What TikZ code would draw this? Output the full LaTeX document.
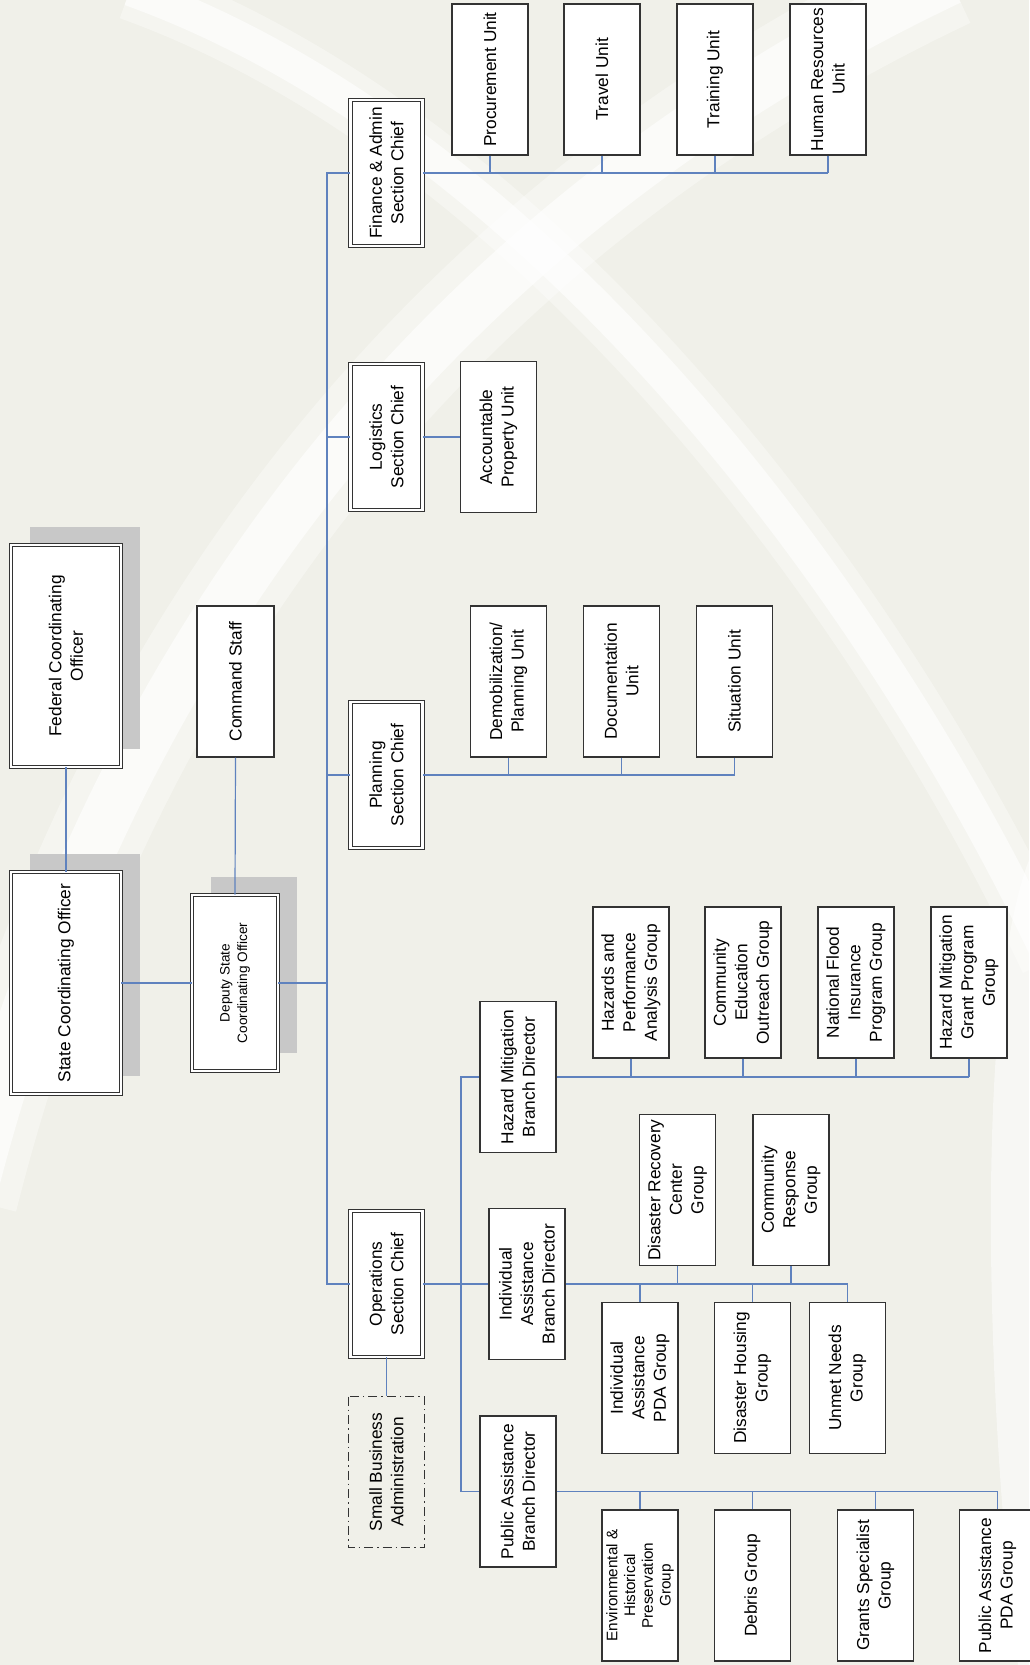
\documentclass[tikz,border=0pt]{standalone}
\usepackage{fontspec}
\setmainfont{Liberation Sans}
\usepackage{xcolor}
\usepackage{tikz}
\usetikzlibrary{backgrounds}
\definecolor{pagebg}{RGB}{240,240,233}
\definecolor{boxline}{RGB}{51,51,51}
\definecolor{linkblue}{RGB}{95,130,190}
\definecolor{shadowgray}{RGB}{200,200,200}
\newcommand{\orgfont}{\fontsize{17.3}{21.5}\selectfont}
\newcommand{\deputyfont}{\fontsize{13.6}{17.5}\selectfont}
\newcommand{\denseorgfont}{\fontsize{15.3}{17.8}\selectfont}
\tikzset{
  orgbox/.style={
    rectangle,
    rotate=90,
    draw=boxline,
    fill=white,
    line width=1.1pt,
    align=center,
    inner sep=2pt,
    minimum width=151pt,
    minimum height=76pt,
    font=\orgfont
  },
  chiefbox/.style={
    orgbox,
    double=white,
    double distance=2.4pt,
    line width=0.9pt,
    minimum width=146pt,
    minimum height=72pt
  },
  officerbox/.style={
    chiefbox,
    minimum width=222pt,
    minimum height=110pt
  },
  sbabox/.style={
    orgbox,
    fill=none,
    dash pattern=on 9pt off 4pt on 1.5pt off 4pt
  },
  linkline/.style={
    draw=linkblue,
    line width=1.2pt
  },
  archband/.style={
    draw=white,
    line cap=butt
  }
}

\begin{document}
\begin{tikzpicture}[x=1pt, y=-1pt]
\useasboundingbox (0,0) rectangle (1029,1665);

% command level
\node[officerbox] (fco) at (66,656) {Federal Coordinating\\Officer};
\node[officerbox] (sco) at (66,983) {State Coordinating Officer};
\node[orgbox, minimum width=151pt, minimum height=77pt] (cs) at (235.5,681.5) {Command Staff};
\node[chiefbox, font=\deputyfont, minimum width=176pt, minimum height=86pt] (dsco) at (235,983) {Deputy State\\Coordinating Officer};

% section chiefs
\node[chiefbox] (fin) at (386.5,173) {Finance \& Admin\\Section Chief};
\node[chiefbox] (log) at (386.5,437) {Logistics\\Section Chief};
\node[chiefbox] (plan) at (386.5,775) {Planning\\Section Chief};
\node[chiefbox] (ops) at (386.5,1284) {Operations\\Section Chief};
\node[sbabox] (sba) at (386.5,1472) {Small Business\\Administration};

% finance, logistics and planning units
\node[orgbox] (proc) at (490,79.5) {Procurement Unit};
\node[orgbox] (trav) at (602,79.5) {Travel Unit};
\node[orgbox] (trng) at (715,79.5) {Training Unit};
\node[orgbox] (hres) at (828,79.5) {Human Resources\\Unit};
\node[orgbox] (acct) at (498.5,437) {Accountable\\Property Unit};
\node[orgbox] (demo) at (508.5,681.5) {Demobilization/\\Planning Unit};
\node[orgbox] (docu) at (621.5,681.5) {Documentation\\Unit};
\node[orgbox] (situ) at (734.5,681.5) {Situation Unit};

% branch directors
\node[orgbox] (hmbd) at (518,1077) {Hazard Mitigation\\Branch Director};
\node[orgbox] (iabd) at (527,1284) {Individual\\Assistance\\Branch Director};
\node[orgbox] (pabd) at (518,1491.5) {Public Assistance\\Branch Director};

% hazard mitigation groups
\node[orgbox] (hpag) at (631,982.5) {Hazards and\\Performance\\Analysis Group};
\node[orgbox] (ceog) at (743,982.5) {Community\\Education\\Outreach Group};
\node[orgbox] (nfip) at (856,982.5) {National Flood\\Insurance\\Program Group};
\node[orgbox] (hmgp) at (969,982.5) {Hazard Mitigation\\Grant Program\\Group};

% individual assistance groups
\node[orgbox] (drcg) at (677.5,1190) {Disaster Recovery\\Center\\Group};
\node[orgbox] (crsg) at (791,1190) {Community\\Response\\Group};
\node[orgbox] (iapda) at (640,1378) {Individual\\Assistance\\PDA Group};
\node[orgbox] (dhsg) at (752.5,1378) {Disaster Housing\\Group};
\node[orgbox] (unmet) at (847.5,1378) {Unmet Needs\\Group};

% public assistance groups
\node[orgbox, font=\denseorgfont] (ehpg) at (640,1585.5) {Environmental \&\\Historical\\Preservation\\Group};
\node[orgbox] (debg) at (752.5,1585.5) {Debris Group};
\node[orgbox] (gspg) at (875.5,1585.5) {Grants Specialist\\Group};
\node[orgbox] (papda) at (997.5,1585.5) {Public Assistance\\PDA Group};

\coordinate (trunk) at (327,0);
\coordinate (branch) at (461,0);

% command links
\draw[linkline] (fco.west) -- (sco.east);
\draw[linkline] (sco.south) -- (dsco.north);
\draw[linkline] (cs.west) -- (dsco.east);
\draw[linkline] (dsco.south) -- (trunk |- dsco.south);
\draw[linkline] (fin.north) -| (trunk |- ops.north) -- (ops.north);
\draw[linkline] (log.north) -- (trunk |- log.north);
\draw[linkline] (plan.north) -- (trunk |- plan.north);

% finance
\draw[linkline] (fin.south) -- (hres.west |- fin.south);
\draw[linkline] (proc.west) -- (proc.west |- fin.south);
\draw[linkline] (trav.west) -- (trav.west |- fin.south);
\draw[linkline] (trng.west) -- (trng.west |- fin.south);
\draw[linkline] (hres.west) -- (hres.west |- fin.south);

% logistics and planning
\draw[linkline] (log.south) -- (acct.north);
\draw[linkline] (plan.south) -- (situ.west |- plan.south);
\draw[linkline] (demo.west) -- (demo.west |- plan.south);
\draw[linkline] (docu.west) -- (docu.west |- plan.south);
\draw[linkline] (situ.west) -- (situ.west |- plan.south);

% operations
\draw[linkline] (ops.south) -- (iabd.north);
\draw[linkline] (ops.west) -- (sba.east);
\draw[linkline] (hmbd.north) -| (branch |- pabd.north) -- (pabd.north);

\draw[linkline] (hmbd.south) -- (hmgp.west |- hmbd.south);
\draw[linkline] (hpag.west) -- (hpag.west |- hmbd.south);
\draw[linkline] (ceog.west) -- (ceog.west |- hmbd.south);
\draw[linkline] (nfip.west) -- (nfip.west |- hmbd.south);
\draw[linkline] (hmgp.west) -- (hmgp.west |- hmbd.south);

\draw[linkline] (iabd.south) -- (unmet.east |- iabd.south);
\draw[linkline] (drcg.west) -- (drcg.west |- iabd.south);
\draw[linkline] (crsg.west) -- (crsg.west |- iabd.south);
\draw[linkline] (iapda.east) -- (iapda.east |- iabd.south);
\draw[linkline] (dhsg.east) -- (dhsg.east |- iabd.south);
\draw[linkline] (unmet.east) -- (unmet.east |- iabd.south);

\draw[linkline] (pabd.south) -- (papda.east |- pabd.south);
\draw[linkline] (ehpg.east) -- (ehpg.east |- pabd.south);
\draw[linkline] (debg.east) -- (debg.east |- pabd.south);
\draw[linkline] (gspg.east) -- (gspg.east |- pabd.south);
\draw[linkline] (papda.east) -- (papda.east |- pabd.south);

\begin{scope}[on background layer]
  \fill[pagebg] (0,0) rectangle (1029,1665);
  % arches of the backdrop
  \draw[archband, line width=95pt, opacity=0.35] (-30,1200) .. controls (90,720) and (380,250) .. (950,-20);
  \draw[archband, line width=50pt, opacity=0.6] (-30,1200) .. controls (90,720) and (380,250) .. (950,-20);
  \draw[archband, line width=60pt, opacity=0.35] (130,-10) .. controls (520,130) and (860,560) .. (1050,960);
  \draw[archband, line width=32pt, opacity=0.6] (130,-10) .. controls (520,130) and (860,560) .. (1050,960);
  \fill[white, opacity=0.5] (1029,860) .. controls (975,1000) and (985,1400) .. (1018,1665) -- (1029,1665) -- cycle;
  % shadows
  \fill[shadowgray] ([xshift=19pt,yshift=18pt]fco.north east) rectangle ([xshift=19pt,yshift=18pt]fco.south west);
  \fill[shadowgray] ([xshift=19pt,yshift=18pt]sco.north east) rectangle ([xshift=19pt,yshift=18pt]sco.south west);
  \fill[shadowgray] ([xshift=19pt,yshift=18pt]dsco.north east) rectangle ([xshift=19pt,yshift=18pt]dsco.south west);
\end{scope}
\end{tikzpicture}
\end{document}
